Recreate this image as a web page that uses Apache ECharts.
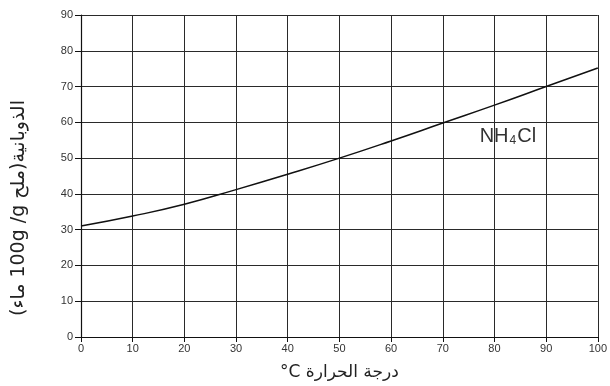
<!DOCTYPE html>
<html>
<head>
<meta charset="utf-8">
<script src="https://cdn.jsdelivr.net/npm/echarts@6/dist/echarts.min.js"></script>
<style>
html,body{margin:0;padding:0;background:#fff;}
#c{width:610px;height:386px;}
</style>
</head>
<body>
<div id="c" dir="rtl"></div>
<script>
const temps = [0, 10, 20, 30, 40, 50, 60, 70, 80, 90, 100];
const nh4cl = [31, 33.8, 37.1, 41.2, 45.5, 50, 54.8, 59.8, 64.8, 70, 75.2];
const xTicks = [0, 10, 20, 30, 40, 50, 60, 70, 80, 90, 100];
const yTicks = [0, 10, 20, 30, 40, 50, 60, 70, 80, 90];
const seriesName = 'NH4Cl';
const xName = 'درجة الحرارة \u200E°C';
const yName = 'الذوبانية(ملح \u200E100g /g\u200E ماء)';

const chart = echarts.init(document.getElementById('c'), null, {renderer: 'canvas'});
const axisFont = {fontFamily: 'Liberation Sans, Arial, sans-serif', fontSize: 11, color: '#333'};
chart.setOption({
  animation: false,
  backgroundColor: '#fff',
  grid: {left: 81, right: 12, top: 15, bottom: 48},
  graphic: [{
    type: 'text',
    x: 19, y: 208,
    rotation: Math.PI / 2,
    style: {
      text: yName,
      fontFamily: 'DejaVu Sans, sans-serif',
      fontSize: 19,
      fill: '#222',
      align: 'center',
      verticalAlign: 'middle'
    }
  }],
  xAxis: {
    type: 'value', min: 0, max: 100, interval: 10,
    name: xName, nameLocation: 'middle', nameGap: 27,
    nameTextStyle: {fontFamily: 'DejaVu Sans, sans-serif', fontSize: 17, color: '#222'},
    axisLine: {show: true, lineStyle: {color: '#111', width: 1.2}},
    axisTick: {show: true, length: 5, lineStyle: {color: '#111'}},
    axisLabel: Object.assign({margin: 6}, axisFont),
    splitLine: {show: true, lineStyle: {color: '#2a2a2a', width: 1}}
  },
  yAxis: {
    type: 'value', min: 0, max: 90, interval: 10,
    axisLine: {show: true, lineStyle: {color: '#111', width: 1.2}},
    axisTick: {show: true, length: 6, lineStyle: {color: '#111'}},
    axisLabel: Object.assign({margin: 8}, axisFont),
    splitLine: {show: true, lineStyle: {color: '#2a2a2a', width: 1}}
  },
  series: [{
    name: seriesName,
    type: 'line',
    smooth: true,
    symbol: 'none',
    data: temps.map((t, i) => [t, nh4cl[i]]),
    lineStyle: {color: '#111', width: 1.5},
    markPoint: {
      symbol: 'circle',
      symbolSize: 1,
      itemStyle: {color: 'rgba(0,0,0,0)'},
      data: [{coord: [82.6, 56], value: 1}],
      label: {
        show: true,
        position: 'inside',
        formatter: '{a|NH}{b|4}{a|Cl}',
        rich: {
          a: {fontFamily: 'Liberation Sans, Arial, sans-serif', fontSize: 20, color: '#333'},
          b: {fontFamily: 'Liberation Sans, Arial, sans-serif', fontSize: 12, color: '#333', verticalAlign: 'bottom', padding: [7, 1, 0, 1]}
        }
      }
    }
  }]
});
</script>
</body>
</html>
